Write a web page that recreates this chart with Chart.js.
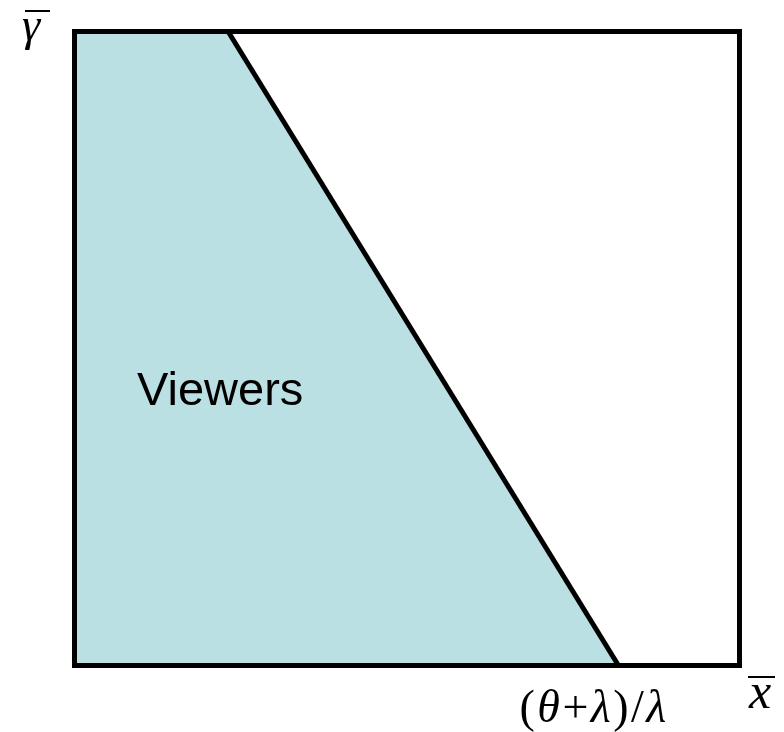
<!DOCTYPE html>
<html lang="en">
<head>
    <meta charset="UTF-8">
    <title>Viewers region</title>
    <script src="https://cdn.jsdelivr.net/npm/chart.js"></script>
    <style>
        html, body { margin: 0; padding: 0; background: #fff; }
        #wrap { width: 784px; height: 732px; }
    </style>
</head>
<body>
    <div id="wrap"><canvas id="myChart"></canvas></div>
    <script>
        // region boundary: the viewers area lies left of the line
        const regionX = [0, 0.231, 0.818]
        const regionY = [1, 1, 0]
        // outer box of the (x, gamma) plane
        const boxX = [0, 0, 1, 1, 0]
        const boxY = [0, 1, 1, 0, 0]
        const cutoffX = 0.818
        // cutoff label as [text, italic] pieces: (θ+λ)/λ
        const cutoffLabel = [['(', false], ['θ', true], ['+', false], ['λ', true], [')', false], ['/', false], ['λ', true]]
        const areaLabel = 'Viewers'

        const toPoints = (xs, ys) => xs.map((x, i) => ({ x: x, y: ys[i] }))

        const serif = '"Liberation Serif", "Times New Roman", serif'

        // text drawn inside / around the box
        const labelsPlugin = {
            id: 'labels',
            afterDatasetsDraw(chart) {
                const c = chart.ctx
                const xs = chart.scales.x
                const ys = chart.scales.y
                c.save()
                c.fillStyle = '#000'
                c.textBaseline = 'alphabetic'
                c.textAlign = 'left'

                c.font = '47px "Liberation Sans", Arial, sans-serif'
                c.fillText(areaLabel, xs.getPixelForValue(0.094), ys.getPixelForValue(0.411))

                // mixed upright / italic math label, right end near the cutoff
                let px = xs.getPixelForValue(cutoffX) - 99
                cutoffLabel.forEach(([t, it]) => {
                    c.font = (it ? 'italic ' : '') + '46px ' + serif
                    c.fillText(t, px, 722)
                    px += c.measureText(t).width + 2.5
                })

                // axis names with a bar on top
                c.font = 'italic 46px ' + serif
                c.fillText('γ', 22, 40)
                c.fillRect(25, 10, 25, 2)
                c.font = 'italic 50px ' + serif
                c.fillText('x', 749, 708)
                c.fillRect(748, 676, 27, 2)
                c.restore()
            }
        }

        var ctx = document.getElementById('myChart')
        var myChart = new Chart(ctx, {
            type: 'scatter',
            data: {
                datasets: [{
                    data: toPoints(regionX, regionY),
                    showLine: true,
                    fill: 'origin',
                    backgroundColor: 'rgb(187, 224, 227)',
                    borderColor: 'rgba(0,0,0,0)',
                    borderWidth: 0,
                    pointRadius: 0,
                    order: 3,
                    clip: false
                }, {
                    data: toPoints(regionX.slice(1), regionY.slice(1)),
                    showLine: true,
                    borderColor: '#000',
                    borderWidth: 5,
                    pointRadius: 0,
                    order: 1,
                    clip: false
                }, {
                    data: toPoints(boxX, boxY),
                    showLine: true,
                    borderColor: '#000',
                    borderWidth: 5,
                    borderJoinStyle: 'miter',
                    borderCapStyle: 'square',
                    pointRadius: 0,
                    order: 2,
                    clip: false
                }]
            },
            options: {
                responsive: true,
                maintainAspectRatio: false,
                animation: false,
                layout: {
                    padding: { left: 74.5, top: 31.5, right: 44.5, bottom: 66.5 }
                },
                plugins: {
                    legend: { display: false },
                    tooltip: { enabled: false }
                },
                scales: {
                    x: { type: 'linear', min: 0, max: 1, display: false },
                    y: { type: 'linear', min: 0, max: 1, display: false }
                }
            },
            plugins: [labelsPlugin]
        })
    </script>
</body>
</html>
